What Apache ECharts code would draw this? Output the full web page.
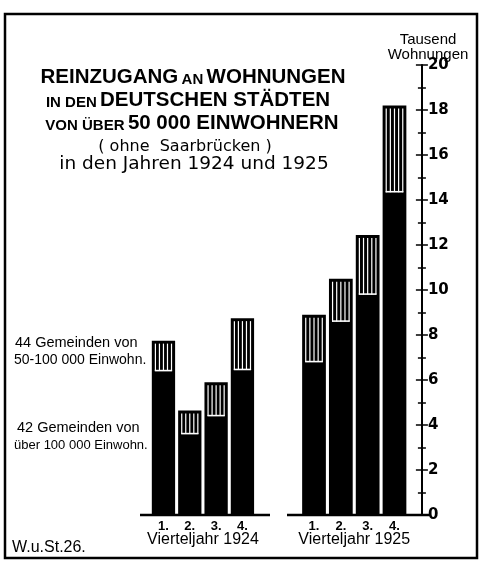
<!DOCTYPE html>
<html>
<head>
<meta charset="utf-8">
<script src="https://cdn.jsdelivr.net/npm/echarts@6/dist/echarts.min.js"></script>
<style>
html,body{margin:0;padding:0;background:#fff;}
#c{width:485px;height:563px;}
</style>
</head>
<body>
<div id="c"></div>
<script>
// Quarter labels
var quarters = ['1.', '2.', '3.', '4.'];
// Tausend Wohnungen, 42 Gemeinden über 100 000 Einwohner (black part)
var over100k_1924 = [6.4, 3.6, 4.4, 6.45];
var over100k_1925 = [6.8, 8.6, 9.8, 14.35];
// Tausend Wohnungen, 44 Gemeinden 50-100 000 Einwohner (striped part)
var from50to100k_1924 = [1.35, 1.05, 1.5, 2.3];
var from50to100k_1925 = [2.1, 1.9, 2.65, 3.85];
var yMin = 0, yMax = 20, yInterval = 2;

function buildData(lower, upper) {
  return lower.map(function (v, i) { return [i, v, upper[i]]; });
}

function renderItem(params, api) {
  var idx = api.value(0);
  var low = api.value(1), up = api.value(2);
  var base = api.coord([idx, 0]);
  var mid = api.coord([idx, low]);
  var top = api.coord([idx, low + up]);
  var band = api.size([1, 0])[0];
  var w = band * 0.885;
  var x0 = base[0] - w / 2;
  var children = [{
    type: 'rect',
    shape: { x: x0, y: top[1], width: w, height: base[1] - top[1] },
    style: { fill: '#000' }
  }];
  var inset = 3.6, topInset = 3;
  var xs = x0 + inset, xe = x0 + w - inset;
  var n = Math.round((xe - xs) / 4);
  var step = (xe - xs) / n;
  for (var i = 0; i <= n; i++) {
    children.push({
      type: 'rect',
      shape: { x: xs + i * step - 0.6, y: top[1] + topInset, width: 1.2, height: mid[1] - top[1] - topInset },
      style: { fill: '#fff' }
    });
  }
  children.push({
    type: 'rect',
    shape: { x: xs - 0.6, y: mid[1] - 1.2, width: xe - xs + 1.2, height: 1.6 },
    style: { fill: '#fff' }
  });
  return { type: 'group', children: children };
}

var chart = echarts.init(document.getElementById('c'), null, { renderer: 'canvas' });

var bigFont = { fontSize: 20.5, fontWeight: 'bold', fontFamily: 'Liberation Sans', verticalAlign: 'bottom', fill: '#000' };
var smallFont = { fontSize: 15, fontWeight: 'bold', fontFamily: 'Liberation Sans', verticalAlign: 'bottom', fill: '#000' };

var xAxisCommon = {
  type: 'category',
  axisLine: { show: false },
  axisTick: { show: false },
  axisLabel: { color: '#000', fontSize: 13, fontFamily: 'Liberation Sans', fontWeight: 'bold', margin: 5 },
  nameLocation: 'middle',
  nameGap: 17,
  nameMoveOverlap: false,
  nameTextStyle: { color: '#000', fontSize: 16, fontFamily: 'Liberation Sans', verticalAlign: 'top' }
};

var option = {
  backgroundColor: '#fff',
  animation: false,
  grid: [
    { left: 150.3, width: 105.3, top: 65, bottom: 48 },
    { left: 300.6, width: 107.3, top: 65, bottom: 48 }
  ],
  xAxis: [
    Object.assign({}, xAxisCommon, { gridIndex: 0, data: quarters, name: 'Vierteljahr 1924' }),
    Object.assign({}, xAxisCommon, { gridIndex: 1, data: quarters, name: 'Vierteljahr 1925' })
  ],
  yAxis: [
    { type: 'value', gridIndex: 0, min: yMin, max: yMax, interval: yInterval, show: false },
    {
      type: 'value', gridIndex: 1, position: 'right', offset: 14,
      min: yMin, max: yMax, interval: yInterval,
      axisLine: { show: true, lineStyle: { color: '#000', width: 2 } },
      axisTick: { show: true, length: 6, lineStyle: { color: '#000', width: 1.5 } },
      minorTick: { show: true, splitNumber: 2, length: 4, lineStyle: { color: '#000', width: 1.5 } },
      axisLabel: { color: '#000', fontSize: 15, fontWeight: 'bold', fontFamily: 'DejaVu Sans', margin: 6 },
      splitLine: { show: false }
    },
    {
      type: 'value', gridIndex: 1, position: 'right', offset: 14,
      min: yMin, max: yMax, interval: yInterval,
      axisLine: { show: false },
      axisTick: { show: true, inside: true, length: 6, lineStyle: { color: '#000', width: 1.5 } },
      minorTick: { show: true, splitNumber: 2, length: 4, lineStyle: { color: '#000', width: 1.5 } },
      axisLabel: { show: false },
      splitLine: { show: false }
    }
  ],
  series: [
    {
      type: 'custom', name: '1924', xAxisIndex: 0, yAxisIndex: 0,
      renderItem: renderItem,
      encode: { x: 0, y: 1 },
      data: buildData(over100k_1924, from50to100k_1924)
    },
    {
      type: 'custom', name: '1925', xAxisIndex: 1, yAxisIndex: 1,
      renderItem: renderItem,
      encode: { x: 0, y: 1 },
      data: buildData(over100k_1925, from50to100k_1925)
    }
  ],
  graphic: [
    { type: 'rect', shape: { x: 5, y: 14, width: 472, height: 544 }, style: { fill: 'none', stroke: '#000', lineWidth: 2.5 }, silent: true },
    { type: 'line', shape: { x1: 140, y1: 515, x2: 270, y2: 515 }, style: { stroke: '#000', lineWidth: 2.5 }, silent: true },
    { type: 'line', shape: { x1: 287, y1: 515, x2: 429, y2: 515 }, style: { stroke: '#000', lineWidth: 2.5 }, silent: true },
    { type: 'text', x: 193, y: 77, style: { text: '{b|REINZUGANG} {s|AN} {b|WOHNUNGEN}', align: 'center', verticalAlign: 'middle', rich: { b: bigFont, s: smallFont } } },
    { type: 'text', x: 188, y: 100, style: { text: '{s|IN DEN} {b|DEUTSCHEN STÄDTEN}', align: 'center', verticalAlign: 'middle', rich: { b: bigFont, s: smallFont } } },
    { type: 'text', x: 192, y: 123, style: { text: '{s|VON ÜBER} {b|50 000 EINWOHNERN}', align: 'center', verticalAlign: 'middle', rich: { b: bigFont, s: smallFont } } },
    { type: 'text', x: 185, y: 147, style: { text: '( ohne  Saarbrücken )', align: 'center', verticalAlign: 'middle', font: '16px "DejaVu Sans"', fill: '#000' } },
    { type: 'text', x: 194, y: 164, style: { text: 'in den Jahren 1924 und 1925', align: 'center', verticalAlign: 'middle', font: '18.5px "DejaVu Sans"', fill: '#000' } },
    { type: 'text', x: 15, y: 343, style: { text: '44 Gemeinden von', align: 'left', verticalAlign: 'middle', font: '14.5px "Liberation Sans"', fill: '#000' } },
    { type: 'text', x: 14, y: 360, style: { text: '50-100 000 Einwohn.', align: 'left', verticalAlign: 'middle', font: '14px "Liberation Sans"', fill: '#000' } },
    { type: 'text', x: 17, y: 428, style: { text: '42 Gemeinden von', align: 'left', verticalAlign: 'middle', font: '14.5px "Liberation Sans"', fill: '#000' } },
    { type: 'text', x: 14, y: 445, style: { text: 'über 100 000 Einwohn.', align: 'left', verticalAlign: 'middle', font: '13px "Liberation Sans"', fill: '#000' } },
    { type: 'text', x: 12, y: 548, style: { text: 'W.u.St.26.', align: 'left', verticalAlign: 'middle', font: '16px "Liberation Sans"', fill: '#000' } },
    { type: 'text', x: 428, y: 40, style: { text: 'Tausend', align: 'center', verticalAlign: 'middle', font: '15px "Liberation Sans"', fill: '#000' } },
    { type: 'text', x: 428, y: 55, style: { text: 'Wohnungen', align: 'center', verticalAlign: 'middle', font: '15px "Liberation Sans"', fill: '#000' } }
  ]
};
chart.setOption(option);
</script>
</body>
</html>
